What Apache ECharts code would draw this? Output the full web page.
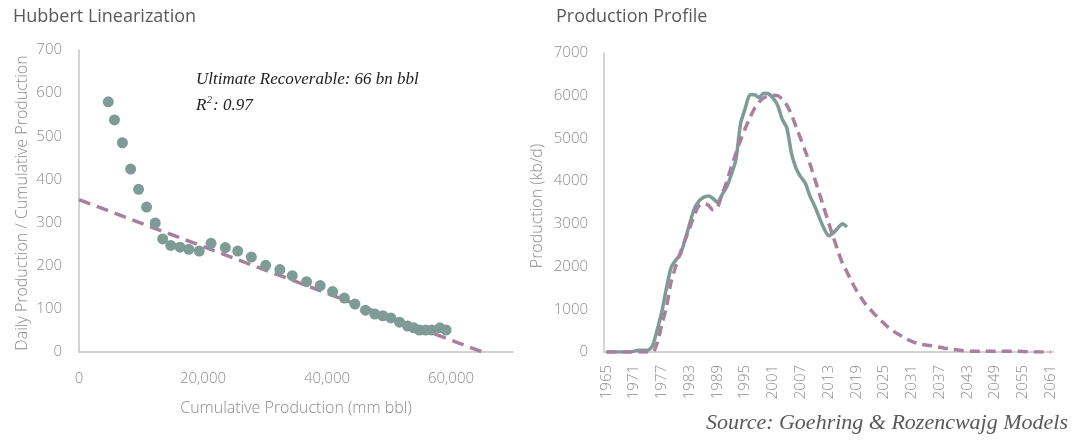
<!DOCTYPE html>
<html>
<head>
<meta charset="utf-8">
<script src="https://cdn.jsdelivr.net/npm/echarts@6/dist/echarts.min.js"></script>
<style>
  html, body { margin: 0; padding: 0; background: #ffffff; }
  #chart { width: 1085px; height: 440px; }
</style>
</head>
<body>
<div id="chart"></div>
<script>
// ---------- Hubbert linearization data ----------
var cumProduction = [4720, 5720, 7000, 8330, 9610, 10900, 12300, 13500, 14800, 16300, 17700, 19400,
  21300, 23600, 25600, 27800, 30100, 32400, 34400, 36700, 38900, 40900, 42800, 44500,
  46200, 47700, 49000, 50300, 51700, 53000, 54000, 54900, 55900, 56900, 58200, 59200];
var dailyOverCum = [580, 538, 485, 424, 377, 336, 299, 262, 247, 243, 238, 234,
  252, 242, 234, 220, 201, 191, 177, 163, 154, 140, 125, 111,
  97, 88, 84, 79, 69, 60, 56, 51, 51, 51, 56, 51];
var trendX = [0, 65100];
var trendY = [353, 0];
var xTicksLeft = ['0', '20,000', '40,000', '60,000'];

// ---------- Production profile data ----------
var years = ['1965','1966','1967','1968','1969','1970','1971','1972','1973','1974',
  '1975','1976','1977','1978','1979','1980','1981','1982','1983','1984',
  '1985','1986','1987','1988','1989','1990','1991','1992','1993','1994',
  '1995','1996','1997','1998','1999','2000','2001','2002','2003','2004',
  '2005','2006','2007','2008','2009','2010','2011','2012','2013','2014',
  '2015','2016','2017','2018','2019','2020','2021','2022','2023','2024',
  '2025','2026','2027','2028','2029','2030','2031','2032','2033','2034',
  '2035','2036','2037','2038','2039','2040','2041','2042','2043','2044',
  '2045','2046','2047','2048','2049','2050','2051','2052','2053','2054',
  '2055','2056','2057','2058','2059','2060','2061'];
var actualProduction = [0, 0, 0, 0, 0, 0, 20, 40, 40, 40,
  150, 520, 950, 1500, 1980, 2150, 2290, 2620, 3000, 3350,
  3530, 3620, 3650, 3600, 3500, 3680, 3860, 4150, 4500, 5350,
  5700, 6020, 6020, 5960, 6060, 6050, 5950, 5780, 5450, 5250,
  4650, 4300, 4100, 3950, 3650, 3420, 3150, 2900, 2720, 2780,
  2900, 3000, 2930];
var modelProduction = [0, 0, 0, 0, 0, 0, 0, 0, 0, 0,
  0, 220, 650, 1060, 1650, 2000, 2330, 2620, 2900, 3200,
  3420, 3480, 3440, 3330, 3380, 3700, 3980, 4330, 4650, 4960,
  5230, 5480, 5700, 5850, 5950, 5990, 6010, 6000, 5920, 5780,
  5560, 5270, 4990, 4700, 4400, 4060, 3720, 3380, 3030, 2700,
  2380, 2080, 1870, 1650, 1450, 1280, 1120, 1000, 880, 770,
  670, 570, 490, 420, 360, 300, 250, 210, 180, 165,
  150, 130, 110, 90, 75, 60, 45, 30, 20, 15,
  15, 15, 15, 15, 15, 15, 15, 15, 15, 15,
  12, 5, 0, 0, 0, 0, 0];

var scatterData = cumProduction.map(function (x, i) { return [x, dailyOverCum[i]]; });
var trendData = trendX.map(function (x, i) { return [x, trendY[i]]; });

var TEAL = '#7f9b96';
var MAUVE = '#a8809c';
var AXIS = '#c4c4c4';
var TICK = '#8c8c8c';
var TITLE = '#595959';
var SANS = '"Open Sans", "Noto Sans", sans-serif';
var SERIF = '"Liberation Serif", "DejaVu Serif", serif';

var chart = echarts.init(document.getElementById('chart'), null, { renderer: 'canvas' });

var option = {
  backgroundColor: '#ffffff',
  animation: false,
  grid: [
    { left: 79, top: 50, width: 434, height: 302 },
    { left: 604, top: 53, width: 449, height: 299 }
  ],
  xAxis: [
    {
      gridIndex: 0, type: 'value', min: 0, max: 70000, interval: 20000,
      axisLine: { show: true, lineStyle: { color: AXIS, width: 1.5 } },
      axisTick: { show: false },
      splitLine: { show: false },
      axisLabel: {
        color: TICK, fontFamily: SANS, fontSize: 15, fontWeight: 300, margin: 19,
        showMaxLabel: false,
        formatter: function (v) { return xTicksLeft[Math.round(v / 20000)] || ''; }
      }
    },
    {
      gridIndex: 1, type: 'category', data: years, boundaryGap: true,
      axisLine: { show: true, lineStyle: { color: AXIS, width: 1.5 } },
      axisTick: { show: false },
      splitLine: { show: false },
      axisLabel: {
        color: TICK, fontFamily: SANS, fontSize: 15, fontWeight: 300, margin: 13,
        rotate: 90, interval: 5
      }
    }
  ],
  yAxis: [
    {
      gridIndex: 0, type: 'value', min: 0, max: 700, interval: 100,
      axisLine: { show: true, lineStyle: { color: AXIS, width: 1.5 } },
      axisTick: { show: false },
      splitLine: { show: false },
      axisLabel: { color: TICK, fontFamily: SANS, fontSize: 15, fontWeight: 300, margin: 17 }
    },
    {
      gridIndex: 1, type: 'value', min: 0, max: 7000, interval: 1000,
      axisLine: { show: true, lineStyle: { color: AXIS, width: 1.5 } },
      axisTick: { show: false },
      splitLine: { show: false },
      axisLabel: {
        color: TICK, fontFamily: SANS, fontSize: 15, fontWeight: 300, margin: 16,
        formatter: function (v) { return String(v); }
      }
    }
  ],
  series: [
    {
      name: 'Linear fit', type: 'line', xAxisIndex: 0, yAxisIndex: 0,
      data: trendData, symbol: 'none', z: 2,
      lineStyle: { color: MAUVE, width: 3.5, type: [12, 7] }
    },
    {
      name: 'Hubbert', type: 'scatter', xAxisIndex: 0, yAxisIndex: 0,
      data: scatterData, symbol: 'circle', symbolSize: 11, z: 3,
      itemStyle: { color: TEAL, opacity: 1 }
    },
    {
      name: 'Actual', type: 'line', xAxisIndex: 1, yAxisIndex: 1,
      data: actualProduction, symbol: 'none', smooth: 0.2, z: 3,
      lineStyle: { color: TEAL, width: 3.5 }
    },
    {
      name: 'Model', type: 'line', xAxisIndex: 1, yAxisIndex: 1,
      data: modelProduction, symbol: 'none', smooth: 0.3, z: 4,
      lineStyle: { color: MAUVE, width: 3.5, type: [10, 6] }
    }
  ],
  graphic: [
    { type: 'text', left: 13, top: 8, style: { text: 'Hubbert Linearization', fill: TITLE, font: '18px ' + SANS } },
    { type: 'text', left: 556, top: 8, style: { text: 'Production Profile', fill: TITLE, font: '18px ' + SANS } },
    { type: 'text', x: 22, y: 203, rotation: Math.PI / 2,
      style: { text: 'Daily Production / Cumulative Production', fill: TICK, font: '300 16px ' + SANS, textAlign: 'center', textVerticalAlign: 'middle' } },
    { type: 'text', x: 296, y: 408,
      style: { text: 'Cumulative Production (mm bbl)', fill: TICK, font: '300 16px ' + SANS, textAlign: 'center', textVerticalAlign: 'middle' } },
    { type: 'text', x: 537, y: 206, rotation: Math.PI / 2,
      style: { text: 'Production (kb/d)', fill: TICK, font: '300 16px ' + SANS, textAlign: 'center', textVerticalAlign: 'middle' } },
    { type: 'text', x: 196, y: 80,
      style: { text: 'Ultimate Recoverable: 66 bn bbl', fill: '#222222', font: 'italic 17px ' + SERIF, textAlign: 'left', textVerticalAlign: 'middle' } },
    { type: 'text', x: 196, y: 106,
      style: { text: 'R', fill: '#222222', font: 'italic 17px ' + SERIF, textAlign: 'left', textVerticalAlign: 'middle' } },
    { type: 'text', x: 207, y: 100,
      style: { text: '2', fill: '#222222', font: 'italic 10px ' + SERIF, textAlign: 'left', textVerticalAlign: 'middle' } },
    { type: 'text', x: 213, y: 106,
      style: { text: ': 0.97', fill: '#222222', font: 'italic 17px ' + SERIF, textAlign: 'left', textVerticalAlign: 'middle' } },
    { type: 'text', x: 1068, y: 423,
      style: { text: 'Source: Goehring & Rozencwajg Models', fill: TITLE, font: 'italic 22px ' + SERIF, textAlign: 'right', textVerticalAlign: 'middle' } }
  ]
};
chart.setOption(option);
</script>
</body>
</html>
